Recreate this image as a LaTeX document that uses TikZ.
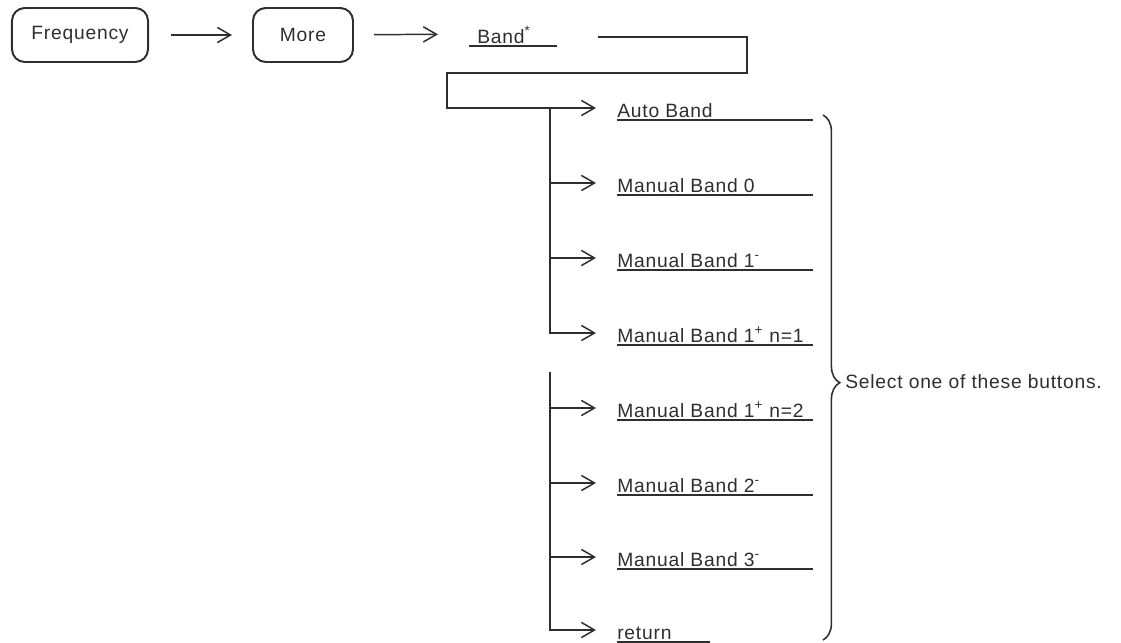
\documentclass[tikz,border=0pt]{standalone}
\usepackage{fontspec}
\newfontfamily\lblfont{Liberation Sans}[LetterSpace=4]
\usetikzlibrary{positioning,arrows.meta,decorations.pathreplacing}
\colorlet{ink}{black!82}
\tikzset{
  flowarrow/.style={->, line width=1.05pt, draw=ink},
  keybox/.style={draw=ink, rounded corners=0.32cm, line width=1.4pt, minimum height=1.35cm, align=center},
  softkey/.style={anchor=west, inner xsep=0.525cm, inner ysep=0pt, text height=0.45cm, text depth=0pt},
  keyline/.style={line width=1.5pt, draw=ink},
  bracket/.style={draw=ink, line width=1.1pt, decorate, decoration={brace, amplitude=0.42cm, aspect=0.51}}
}

\begin{document}
\begin{tikzpicture}[x=0.025cm, y=-0.025cm, >={Straight Barb[length=3.3mm,width=3.8mm]},
    every node/.style={font=\lblfont\fontsize{13.7}{16}\selectfont, text=ink}]
  \useasboundingbox (0,0) rectangle (1121,643);
  \node[keybox, minimum width=3.4cm] (freq) at (80,35) {Frequency};
  \node[keybox, minimum width=2.5cm] (more) at (303,35) {More};
  \node[softkey, inner xsep=0pt] (band) at (477,34) {Band\textsuperscript{*}};
  \draw[keyline] (469,46) -- (557,46);
  \draw[flowarrow, shorten <=0.55cm, shorten >=0.5cm] (freq) -- (more);
  \draw[flowarrow, shorten <=0.5cm, shorten >=0.975cm] (more) -- (band);

  \foreach \name/\y/\u/\txt in {auto/108/813/Auto Band, man0/183/813/Manual Band 0,
      man1m/258/813/{Manual Band 1\textsuperscript{-}}, man1p1/333/813/{Manual Band 1\textsuperscript{+} n=1},
      man1p2/408/813/{Manual Band 1\textsuperscript{+} n=2}, man2/483/813/{Manual Band 2\textsuperscript{-}},
      man3/557/813/{Manual Band 3\textsuperscript{-}}, ret/630/710/return} {
    \node[softkey] (\name) at (596,\y) {\txt};
    \draw[keyline] (617,\y+12) -- (\u,\y+12);
  }

  \coordinate (bandout) at (598,37);
  \coordinate (loopR) at (747,73);
  \coordinate (loopL) at (447,108);
  \draw[flowarrow] (bandout) -| (loopR) -| (loopL) -- (auto.west);

  \coordinate (jtop) at (550,108);
  \coordinate (jlow) at (550,372);
  \draw[flowarrow] (jtop) |- (man1p1.west);
  \foreach \name in {man0,man1m}
    \draw[flowarrow] (jtop |- \name.west) -- (\name.west);
  \draw[flowarrow] (jlow) |- (ret.west);
  \foreach \name in {man1p2,man2,man3}
    \draw[flowarrow] (jlow |- \name.west) -- (\name.west);

  \coordinate (bracetop) at (823,115);
  \coordinate (bracebot) at (823,640);
  \draw[bracket] (bracetop) -- (bracebot);
  \node[anchor=west, inner sep=0pt] (sel) at (845,382) {Select one of these buttons.};
\end{tikzpicture}
\end{document}
